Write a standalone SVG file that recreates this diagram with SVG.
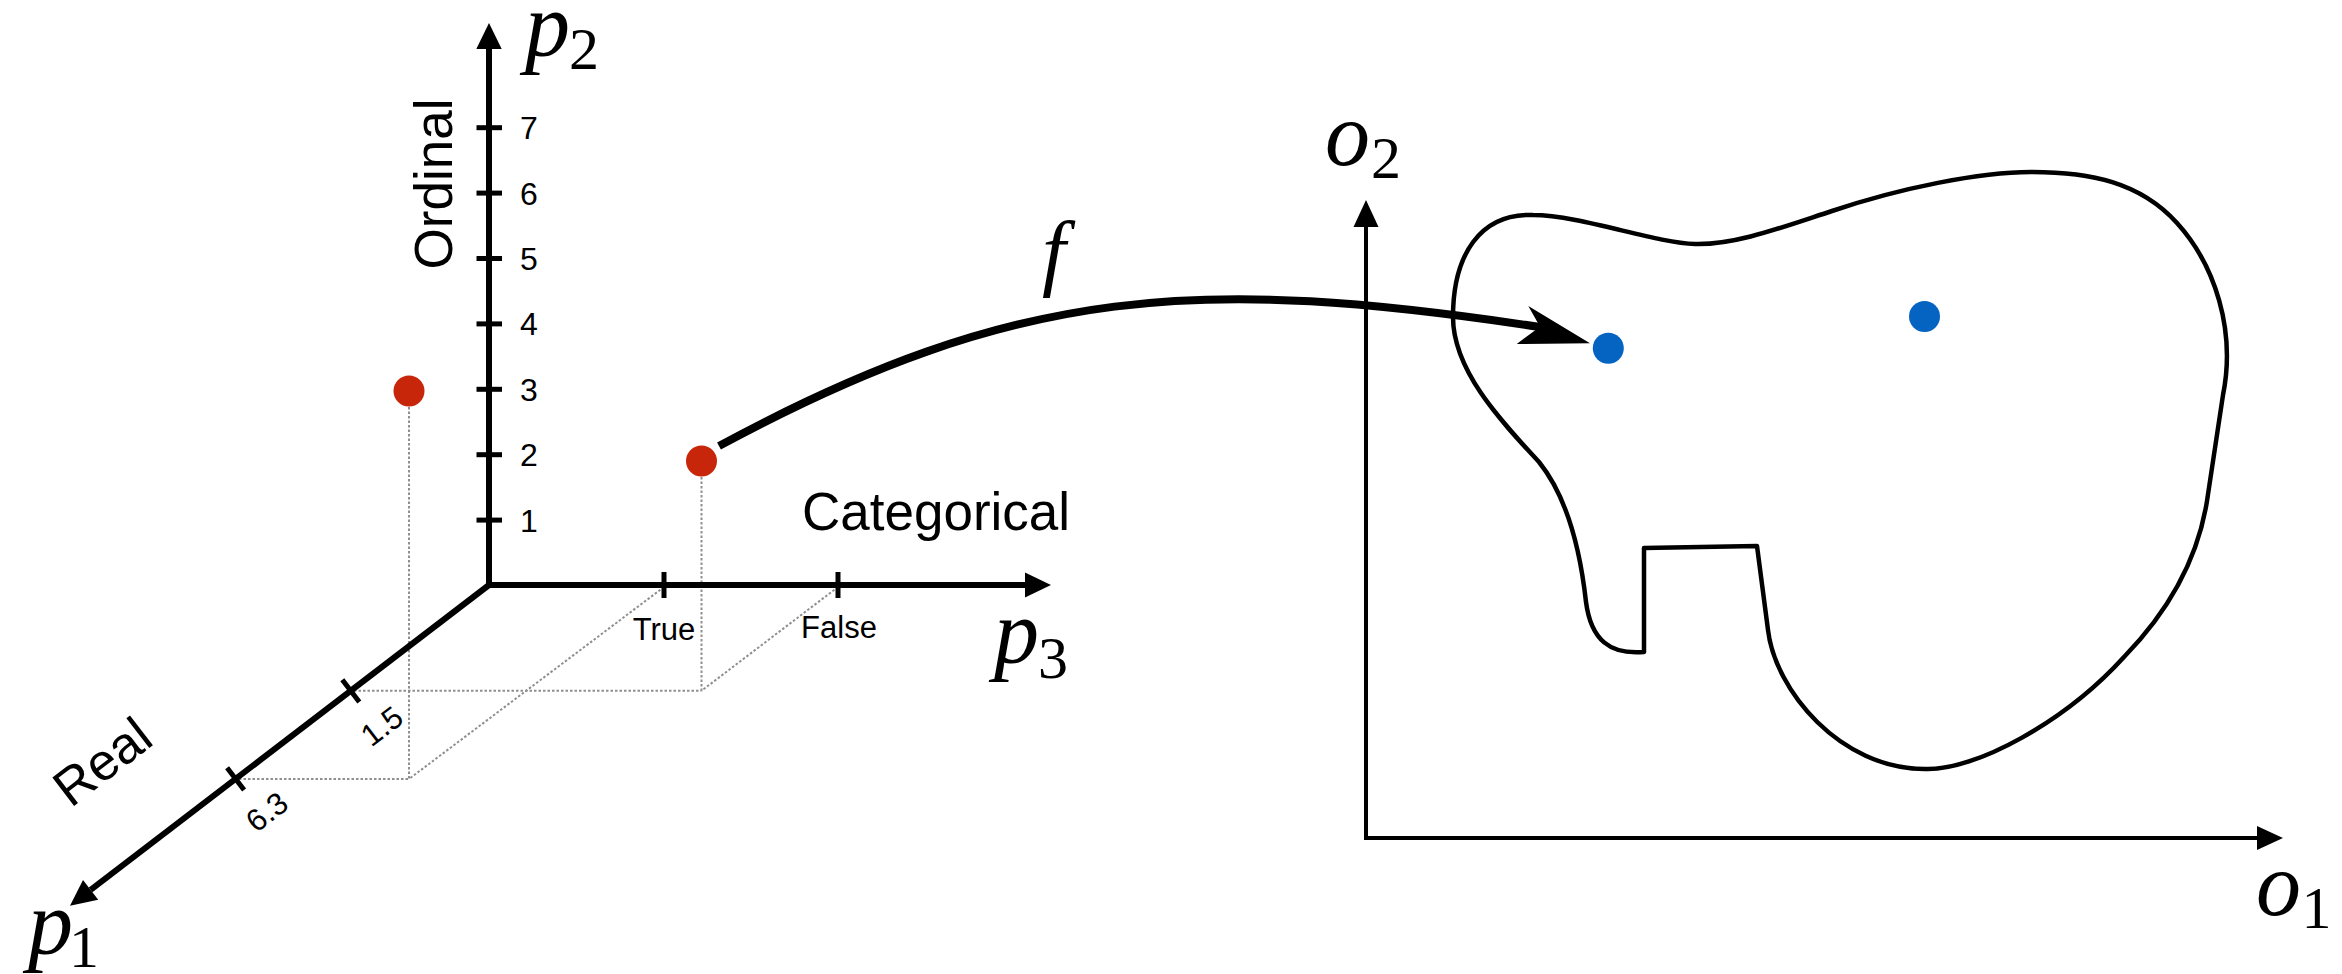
<svg xmlns="http://www.w3.org/2000/svg" width="2342" height="974" viewBox="0 0 2342 974">
<style>
.ax{stroke:#000;stroke-width:6;fill:none;stroke-linejoin:miter}
.oax{stroke:#000;stroke-width:4;fill:none;stroke-linejoin:miter}
.tk{stroke:#000;stroke-width:5}
.guide{stroke:#8f8f8f;stroke-width:2;stroke-dasharray:2.5 2;fill:none}
.head{fill:#000}
.sans{font-family:"Liberation Sans",Arial,sans-serif;fill:#000}
.num{font-size:32px}
.sm{font-size:31px}
.title{font-size:53px}
.math{font-family:"Liberation Serif","Times New Roman",serif;fill:#000}
.it{font-style:italic;font-size:90px}
.sub{font-size:60px}
.red{fill:#C8260A}
.blue{fill:#0563C1}
.blob{fill:none;stroke:#000;stroke-width:4.5;stroke-linejoin:round}
.conn{fill:none;stroke:#000;stroke-width:8}
</style>
<rect width="2342" height="974" fill="#fff"/>

<g id="input-space-guides">
  <line class="guide" x1="409" y1="407" x2="409" y2="779"/>
  <line class="guide" x1="701.5" y1="477" x2="701.5" y2="690.8"/>
  <line class="guide" x1="354" y1="690.8" x2="701.5" y2="690.8"/>
  <line class="guide" x1="239" y1="779" x2="409" y2="779"/>
  <line class="guide" x1="664" y1="587" x2="409" y2="779"/>
  <line class="guide" x1="838" y1="587" x2="701.5" y2="690.8"/>
</g>

<g id="input-axes">
  <path class="ax" d="M489,48 L489,585 L1026,585"/>
  <line class="ax" x1="489" y1="585" x2="90.6" y2="889.9"/>
  <polygon class="head" points="489,23 476.3,49 501.7,49"/>
  <polygon class="head" points="1051,585 1025,572.5 1025,597.5"/>
  <polygon class="head" points="70,905.7 98.2,899.8 83,880"/>
  <g id="p2-ticks">
    <line class="tk" x1="476.5" y1="127.7" x2="502" y2="127.7"/>
    <line class="tk" x1="476.5" y1="193.1" x2="502" y2="193.1"/>
    <line class="tk" x1="476.5" y1="258.5" x2="502" y2="258.5"/>
    <line class="tk" x1="476.5" y1="323.9" x2="502" y2="323.9"/>
    <line class="tk" x1="476.5" y1="389.3" x2="502" y2="389.3"/>
    <line class="tk" x1="476.5" y1="454.7" x2="502" y2="454.7"/>
    <line class="tk" x1="476.5" y1="520.1" x2="502" y2="520.1"/>
  </g>
  <g id="p3-ticks">
    <line class="tk" x1="664" y1="572" x2="664" y2="598"/>
    <line class="tk" x1="838" y1="572" x2="838" y2="598"/>
  </g>
  <g id="p1-ticks">
    <line class="tk" x1="342.3" y1="679.7" x2="359.3" y2="701.9"/>
    <line class="tk" x1="227.1" y1="767.8" x2="244.1" y2="790"/>
  </g>
</g>

<g id="input-labels">
  <g class="sans num">
    <text x="520" y="139">7</text>
    <text x="520" y="204.5">6</text>
    <text x="520" y="270">5</text>
    <text x="520" y="335.3">4</text>
    <text x="520" y="400.7">3</text>
    <text x="520" y="466">2</text>
    <text x="520" y="531.5">1</text>
  </g>
  <text class="sans sm" x="664" y="640" text-anchor="middle">True</text>
  <text class="sans sm" x="839" y="638" text-anchor="middle">False</text>
  <text class="sans sm" transform="translate(381.7,725.8) rotate(-37.5)" x="0" y="11" text-anchor="middle">1.5</text>
  <text class="sans sm" transform="translate(266.7,811.7) rotate(-37.5)" x="0" y="11" text-anchor="middle">6.3</text>
  <text class="sans title" transform="translate(452,184) rotate(-90)" x="0" y="0" text-anchor="middle">Ordinal</text>
  <text class="sans title" x="802" y="530">Categorical</text>
  <text class="sans" style="font-size:52px" transform="translate(101.7,760.8) rotate(-37.5)" x="0" y="19" text-anchor="middle">Real</text>
  <text class="math"><tspan class="it" x="525" y="56">p</tspan><tspan class="sub" x="569" y="69">2</tspan></text>
  <text class="math"><tspan class="it" x="994" y="663">p</tspan><tspan class="sub" x="1038" y="678">3</tspan></text>
  <text class="math"><tspan class="it" x="28" y="954">p</tspan><tspan class="sub" x="69" y="967">1</tspan></text>
</g>

<g id="point-a">
  <circle class="red" cx="409" cy="391" r="15.5"/>
</g>
<g id="point-b">
  <circle class="red" cx="701.5" cy="461" r="15.5"/>
</g>

<g id="output-axes">
  <path class="oax" d="M1366,226 L1366,838 L2258,838"/>
  <polygon class="head" points="1366,200 1353.5,227 1378.5,227"/>
  <polygon class="head" points="2283,838 2257,826 2257,850"/>
  <text class="math"><tspan class="it" x="1325" y="165">o</tspan><tspan class="sub" x="1371" y="178">2</tspan></text>
  <text class="math"><tspan class="it" x="2256" y="915">o</tspan><tspan class="sub" x="2301.5" y="928">1</tspan></text>
</g>

<g id="feasible-region">
  <path class="blob" d="M1644,652 L1644,548 L1757,546 L1768,630 C1775,690 1840,769 1925,769 C1975,771 2065,722 2124,657 C2160,620 2196,570 2207,501 L2223,395 C2236,330 2215,265 2177,223 C2140,182 2090,172 2031,172 C1980,172 1900,188 1832,211 C1780,228 1735,245 1695,244 C1655,243 1580,215 1533,215 C1480,213 1453,255 1453,317 C1453,370 1500,420 1539,462 C1560,488 1578,530 1586,602 C1591,640 1610,655 1644,652 Z"/>
</g>

<g id="output-point-a">
  <circle class="blue" cx="1608.3" cy="348.3" r="15.5"/>
</g>
<g id="output-point-b">
  <circle class="blue" cx="1924.5" cy="316.5" r="15.5"/>
</g>

<g id="connectors">
  <path class="conn" d="M719,446 C1019,284 1200,276 1540,327"/>
  <polygon class="head" points="1590,343.3 1528.3,306 1540,326.7 1516.7,344"/>
  <text class="math" style="font-style:italic;font-size:85px" x="1042" y="280">f</text>
</g>
</svg>
